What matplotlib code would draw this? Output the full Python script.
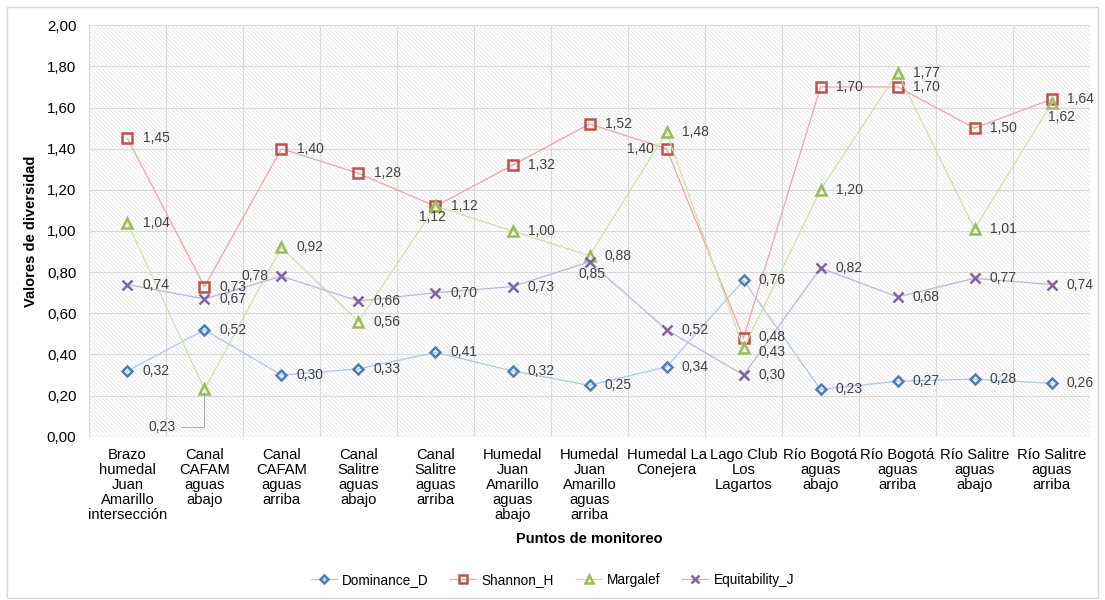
import matplotlib
matplotlib.use("Agg")
import matplotlib.pyplot as plt
from matplotlib.patches import Rectangle
from matplotlib.ticker import FuncFormatter, FixedLocator

plt.rcParams['font.family'] = ['Liberation Sans', 'DejaVu Sans']
plt.rcParams['hatch.color'] = '#e2e2e2'
plt.rcParams['hatch.linewidth'] = 0.5

categorias = ["Brazo\nhumedal\nJuan\nAmarillo\nintersección",
              "Canal\nCAFAM\naguas\nabajo",
              "Canal\nCAFAM\naguas\narriba",
              "Canal\nSalitre\naguas\nabajo",
              "Canal\nSalitre\naguas\narriba",
              "Humedal\nJuan\nAmarillo\naguas\nabajo",
              "Humedal\nJuan\nAmarillo\naguas\narriba",
              "Humedal La\nConejera",
              "Lago Club\nLos\nLagartos",
              "Río Bogotá\naguas\nabajo",
              "Río Bogotá\naguas\narriba",
              "Río Salitre\naguas\nabajo",
              "Río Salitre\naguas\narriba"]

dominance = [0.32, 0.52, 0.30, 0.33, 0.41, 0.32, 0.25, 0.34, 0.76, 0.23, 0.27, 0.28, 0.26]
shannon = [1.45, 0.73, 1.40, 1.28, 1.12, 1.32, 1.52, 1.40, 0.48, 1.70, 1.70, 1.50, 1.64]
margalef = [1.04, 0.23, 0.92, 0.56, 1.12, 1.00, 0.88, 1.48, 0.43, 1.20, 1.77, 1.01, 1.62]
equitab = [0.74, 0.67, 0.78, 0.66, 0.70, 0.73, 0.85, 0.52, 0.30, 0.82, 0.68, 0.77, 0.74]

series = [
    ("Dominance_D", dominance, '#4a7ebb', '#aec6e8', 'D', 5),
    ("Shannon_H", shannon, '#c0504d', '#e8a8a6', 's', 7),
    ("Margalef", margalef, '#9bbb59', '#cfe0ad', '^', 7),
    ("Equitability_J", equitab, '#8064a2', '#c2b3d6', 'x', 7),
]

# desplazamientos especiales de etiquetas (puntos): (dx, dy, ha)
especiales = {
    ("Equitability_J", 2): (-9, 0, 'right'),
    ("Margalef", 4): (-2, -8, 'center'),
    ("Equitability_J", 6): (2, -9, 'center'),
    ("Shannon_H", 7): (-9, 0, 'right'),
    ("Margalef", 12): (7, -10, 'center'),
    ("Margalef", 8): (11, -3, 'left'),
    ("Shannon_H", 8): (11, 1, 'left'),
}

fig = plt.figure(figsize=(11.05, 6.0), dpi=100)
fig.patches.append(Rectangle((0.006, 0.004), 0.988, 0.985, transform=fig.transFigure,
                             fill=False, edgecolor='#d9d9d9', linewidth=1.0))
ax = fig.add_axes([0.0805, 0.272, 0.906, 0.686])
ax.patch.set_hatch('\\\\\\\\\\\\\\\\')
ax.patch.set_edgecolor('#e2e2e2')

x = list(range(len(categorias)))
fmt = lambda v: ("%.2f" % v).replace('.', ',')

for nombre, vals, col, lcol, mk, ms in series:
    ax.plot(x, vals, color=lcol, linewidth=0.9, marker=mk, markersize=ms,
            markerfacecolor='none' if mk != 'x' else col, markeredgecolor=col,
            markeredgewidth=1.8, label=nombre, zorder=3)
    for i, v in enumerate(vals):
        if nombre == "Margalef" and i == 1:
            ax.annotate(fmt(v), xy=(i, v), xytext=(i - 0.55, v - 0.18),
                        fontsize=10, ha='center', va='center', color='#404040',
                        arrowprops=dict(arrowstyle='-', color='#a0a0a0', lw=0.6,
                                        connectionstyle='angle,angleA=0,angleB=90'))
            continue
        dx, dy, ha = especiales.get((nombre, i), (11, 0, 'left'))
        ax.annotate(fmt(v), xy=(i, v), xytext=(dx, dy), textcoords='offset points',
                    ha=ha, va='center', fontsize=10, color='#404040', zorder=4)

ax.set_xlim(-0.5, len(categorias) - 0.5)
ax.set_ylim(0, 2.0)
ax.set_yticks([0.2 * k for k in range(11)])
ax.yaxis.set_major_formatter(FuncFormatter(lambda v, p: fmt(v)))
ax.set_xticks(x)
ax.set_xticklabels(categorias, fontsize=10.6, linespacing=1.1, va='top')
ax.xaxis.set_minor_locator(FixedLocator([k - 0.5 for k in range(len(categorias) + 1)]))
ax.tick_params(axis='both', which='both', length=0)
ax.tick_params(axis='y', labelsize=10.8, pad=9)
ax.tick_params(axis='x', pad=8)
ax.grid(True, axis='y', color='#d9d9d9', linewidth=0.8)
ax.grid(True, axis='x', which='minor', color='#d9d9d9', linewidth=0.8)
ax.set_axisbelow(True)
for s in ax.spines.values():
    s.set_visible(False)

ax.set_ylabel("Valores de diversidad", fontsize=10.5, fontweight='bold', labelpad=6)
ax.set_xlabel("Puntos de monitoreo", fontsize=10.5, fontweight='bold', labelpad=7)

fig.legend(loc='center', bbox_to_anchor=(0.5, 0.033), ncol=4, frameon=False,
           fontsize=9.8, handlelength=1.9, handletextpad=0.4, columnspacing=1.6,
           markerscale=0.85)

fig.savefig("out.png", dpi=100)
